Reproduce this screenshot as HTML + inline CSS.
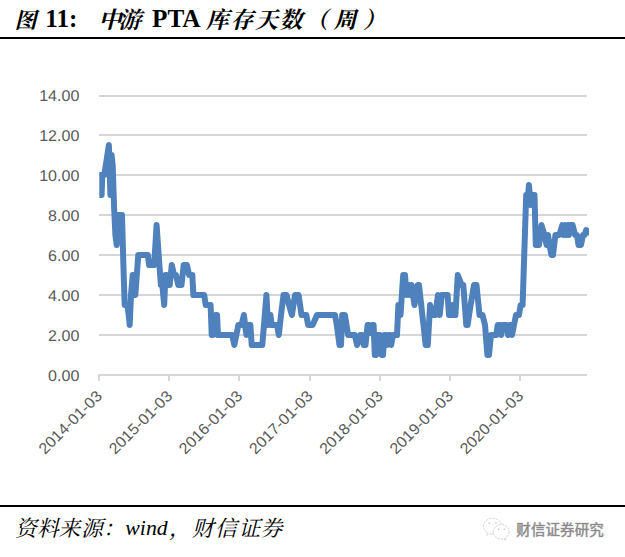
<!DOCTYPE html>
<html><head><meta charset="utf-8"><title>PTA</title>
<style>
html,body{margin:0;padding:0;background:#fff;}
body{width:625px;height:557px;overflow:hidden;font-family:"Liberation Sans",sans-serif;}
svg{display:block;}
.ax text{font-family:"Liberation Sans",sans-serif;font-size:15.5px;fill:#595959;}
.lat{font-family:"Liberation Serif",serif;}
.cjt{font-family:"Liberation Serif","Noto Serif CJK SC",serif;}
</style></head><body>
<svg width="625" height="557" viewBox="0 0 625 557">
<defs><clipPath id="pc"><rect x="99.3" y="60" width="489.7" height="330"/></clipPath></defs>
<rect width="625" height="557" fill="#fff"/>
<g class="cjt" fill="#000" font-size="23" font-weight="bold" font-style="italic">
<text x="14.5" y="27.5" font-size="22">图</text>
<text x="98.5 118.5" y="27.5">中游</text>
<text x="206 230.5 255 279.5" y="27.5">库存天数</text>
<text x="305" y="27.5">（</text>
<text x="333.5" y="27.5">周</text>
<text x="363" y="27.5">）</text>
</g>
<text class="lat" x="45.2" y="27.3" font-size="25.2" font-weight="bold" fill="#000">11:</text>
<text class="lat" x="152" y="27.3" font-size="25.2" font-weight="bold" fill="#000">PTA</text>
<rect x="0" y="37" width="625" height="2" fill="#000" shape-rendering="crispEdges"/>
<g class="ax">
<g fill="#d6d6d6" shape-rendering="crispEdges"><rect x="99" y="374" width="488" height="2"/><rect x="99" y="334" width="488" height="2"/><rect x="99" y="294" width="488" height="2"/><rect x="99" y="254" width="488" height="2"/><rect x="99" y="214" width="488" height="2"/><rect x="99" y="174" width="488" height="2"/><rect x="99" y="134" width="488" height="2"/><rect x="99" y="95" width="488" height="2"/><rect x="98" y="374" width="2" height="2"/><rect x="98" y="375" width="2" height="6"/><rect x="168" y="375" width="2" height="6"/><rect x="238" y="375" width="2" height="6"/><rect x="309" y="375" width="2" height="6"/><rect x="379" y="375" width="2" height="6"/><rect x="449" y="375" width="2" height="6"/><rect x="519" y="375" width="2" height="6"/></g>
<text transform="translate(79.3,381) rotate(0.05) scale(1.036,1)" text-anchor="end">0.00</text><text transform="translate(79.3,341) rotate(0.05) scale(1.036,1)" text-anchor="end">2.00</text><text transform="translate(79.3,301) rotate(0.05) scale(1.036,1)" text-anchor="end">4.00</text><text transform="translate(79.3,261) rotate(0.05) scale(1.036,1)" text-anchor="end">6.00</text><text transform="translate(79.3,221) rotate(0.05) scale(1.036,1)" text-anchor="end">8.00</text><text transform="translate(79.3,181) rotate(0.05) scale(1.036,1)" text-anchor="end">10.00</text><text transform="translate(79.3,141) rotate(0.05) scale(1.036,1)" text-anchor="end">12.00</text><text transform="translate(79.3,101) rotate(0.05) scale(1.036,1)" text-anchor="end">14.00</text><text transform="translate(103,397) rotate(-45) scale(1.036,1)" text-anchor="end">2014-01-03</text><text transform="translate(173.2,397) rotate(-45) scale(1.036,1)" text-anchor="end">2015-01-03</text><text transform="translate(243.4,397) rotate(-45) scale(1.036,1)" text-anchor="end">2016-01-03</text><text transform="translate(313.6,397) rotate(-45) scale(1.036,1)" text-anchor="end">2017-01-03</text><text transform="translate(383.8,397) rotate(-45) scale(1.036,1)" text-anchor="end">2018-01-03</text><text transform="translate(454,397) rotate(-45) scale(1.036,1)" text-anchor="end">2019-01-03</text><text transform="translate(524.2,397) rotate(-45) scale(1.036,1)" text-anchor="end">2020-01-03</text>
</g>
<polyline points="99.3,175 100.4,195 101.6,195 102.3,175 104.3,175 108.9,145 110.4,195 111,195 111.6,155 112.7,165 114,205 115.4,235 116.7,245 118,215 119.4,215 120.7,215 122,215 123.4,265 124.7,305 126,305 127.4,305 128.7,315 129.7,325 131,295 132.7,275 134,275 135.3,295 136.8,275 138.3,255 147.8,255 149.1,265 154.1,265 155.4,245 156.6,225 158,245 159.4,265 160.9,285 162.3,285 164.2,305 165.4,275 166.7,275 168,285 169.7,285 171.8,265 174,275 176,275 178.3,285 181.5,285 183.7,265 186.9,265 189.1,275 192.3,275 193.4,295 204.2,295 205.7,305 210.6,305 211.7,335 213,335 215.5,315 217,315 218,335 232.2,335 234.3,345 236.4,335 238.3,325 241.5,325 243.9,315 246.4,335 248.4,325 250.4,325 251.7,345 262.3,345 264,325 266.4,295 268,325 270.4,315 271.7,325 277,325 278.8,335 281,315 283.5,295 286.5,295 289,305 291.9,315 295,295 298.6,295 301.5,315 306.3,315 308.1,325 312.6,325 317,315 335,315 336.8,325 339.5,345 341,345 342.2,315 344.9,315 348.1,335 354.8,335 357.1,345 360.1,335 362,335 363.7,345 365.5,345 367.6,325 369.4,325 370.6,333 371.8,325 373.6,325 374.8,355 376,355 377.6,335 380,335 381.7,355 383,355 384.4,335 386,335 387,345 388.5,335 390,335 391.2,345 393,335 397,335 398.4,305 400.5,315 403.2,275 405,275 406.5,295 408.6,285 410,295 411.5,285 414.5,305 417.6,285 419,285 425.7,345 427.8,345 430.1,305 432.8,315 435.5,315 437.9,295 439.7,315 441.8,295 447.6,295 449,315 451.5,315 452.7,305 454,315 455.4,315 457.8,275 461.7,285 463.3,285 466.3,325 467.6,325 470.6,305 474,285 476.5,285 479.5,315 482.5,315 485,325 487.4,355 489,355 491,335 496.3,335 497.7,325 500,325 501.2,335 502.5,325 506.5,325 508.1,335 509.5,325 510.8,325 512,335 514,325 516,315 519,315 520.6,305 522.6,305 526.2,195 527.5,203 528.9,185 530.8,205 532.6,195 534.5,195 535.8,245 539,245 541.5,225 544.5,235 546.5,245 548,235 549.5,245 551.4,255 553,255 555.4,235 559.3,235 562.3,225 563.6,235 565,225 566.4,235 567.8,225 568.9,235 570.2,225 572.6,225 575.1,235 577,235 578.5,245 581,245 583,235 584.6,235 586.2,230 590,233" fill="none" stroke="#4f81bd" stroke-width="6" clip-path="url(#pc)" stroke-linejoin="round" stroke-linecap="round"/>
<rect x="0" y="505" width="625" height="2" fill="#000" shape-rendering="crispEdges"/>
<g class="cjt" fill="#000" font-size="21.8" font-style="italic">
<text x="15 37 58.5 81" y="536">资料来源</text>
<text x="103" y="536">：</text>
<text x="169" y="536">，</text>
<text x="192 215 238.5 260.5" y="536">财信证券</text>
</g>
<text class="lat" x="125.3" y="535.2" font-size="21.8" font-style="italic" fill="#000">wind</text>
<g fill="#fff" stroke="#cdcdcd" stroke-width="0.9" stroke-dasharray="2.2 1.1">
<ellipse cx="492.6" cy="526.2" rx="9.2" ry="7.8"/>
<path d="M487.6 532.6 L486.2 535.4 L490.4 533.8" stroke-width="0.8"/>
<ellipse cx="501.2" cy="531.8" rx="8" ry="7.2"/>
<path d="M504.6 538 L506.6 540 L502.6 539" stroke-width="0.8"/>
</g>
<g fill="#c2c2c2"><circle cx="489.2" cy="523" r="0.85"/><circle cx="496" cy="523" r="0.85"/><circle cx="498.6" cy="529.2" r="0.8"/><circle cx="504.4" cy="529.2" r="0.8"/></g>
<text x="516.3 530.9 545.5 560.1 574.7 589.3" y="535" font-size="14.5" fill="#8a8a8a" stroke="#b4b4b4" stroke-width="0.7" paint-order="stroke" style="font-family:'Liberation Sans','Noto Sans CJK SC',sans-serif;">财信证券研究</text>
</svg>
</body></html>
